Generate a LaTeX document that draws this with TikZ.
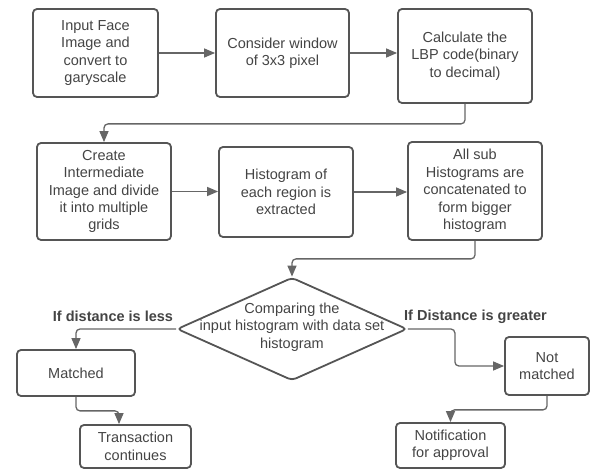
\documentclass[tikz,border=0pt]{standalone}
\usepackage{fontspec}
\setmainfont{Liberation Sans}
\usetikzlibrary{shapes.geometric,arrows.meta}
\definecolor{boxline}{HTML}{555555}
\definecolor{arrline}{HTML}{666666}
\definecolor{txt}{HTML}{444444}
\tikzset{
  box/.style={draw=boxline, line width=1.8pt, rounded corners=4pt, align=center,
    text=txt, inner sep=0pt, font=\fontsize{14.5}{17.4}\selectfont},
  dia/.style={draw=boxline, line width=1.8pt, rounded corners=4pt, shape=diamond,
    inner sep=0pt, minimum width=230pt, minimum height=103pt},
  arr/.style={draw=arrline, line width=1.3pt, rounded corners=4pt,
    -{Triangle[length=11pt,width=9pt]}},
  lbl/.style={text=txt, font=\fontsize{14.5}{17.4}\selectfont\bfseries, inner sep=0pt},
  plain/.style={text=txt, align=center, inner sep=0pt, font=\fontsize{14.5}{17.4}\selectfont}
}
\begin{document}
\begin{tikzpicture}[x=1pt,y=-1pt]
\useasboundingbox (0,0) rectangle (590,470);
\node[box, minimum width=125pt, minimum height=88pt] (b1) at (95.5,53) {Input Face\\Image and\\convert to\\garyscale};
\node[box, minimum width=133pt, minimum height=88pt] (b2) at (282.5,53) {Consider window\\of 3x3 pixel};
\node[box, minimum width=134pt, minimum height=94pt] (b3) at (465,56) {Calculate the\\LBP code(binary\\to decimal)};
\node[box, minimum width=134pt, minimum height=97pt] (b4) at (104,191.5) {Create\\Intermediate\\Image and divide\\it into multiple\\grids};
\node[box, minimum width=134pt, minimum height=90pt] (b5) at (286,192) {Histogram of\\each region is\\extracted};
\node[box, minimum width=134pt, minimum height=98pt] (b6) at (475,191) {All sub\\Histograms are\\concatenated to\\form bigger\\histogram};
\node[dia] (d) at (292,329) {};
\node[plain] (dt) at (292,327) {Comparing the\\input histogram with data set\\histogram};
\node[box, minimum width=118pt, minimum height=46pt] (m) at (76,373) {Matched};
\node[box, minimum width=111pt, minimum height=43pt] (t) at (135.5,446.5) {Transaction\\continues};
\node[box, minimum width=84pt, minimum height=58pt] (nm) at (547,366) {Not\\matched};
\node[box, minimum width=109pt, minimum height=45pt] (nf) at (450.5,445.5) {Notification\\for approval};
\node[lbl] (l1) at (113,316) {If distance is less};
\node[lbl] (l2) at (475.5,317) {If Distance is greater};

\draw[arr] (b1.east) -- (b1.east -| b2.west);
\draw[arr] (b2.east) -- (b2.east -| b3.west);
\draw[arr] (b3.south) -- ++(0,20) -| (b4.north);
\draw[arr] (b4.east) -- (b4.east -| b5.west);
\draw[arr] (b5.east) -- (b5.east -| b6.west);
\draw[arr] (b6.south) -- ++(0,18) -| (d.north);
\draw[arr] (d.west) -| (m.north);
\draw[arr] (m.south) -- ++(0,14) -| ([xshift=-16.5pt]t.north);
\draw[arr] (d.east) -- ++(47,0) |- (nm.west);
\draw[arr] (nm.south) -- ++(0,14) -| (nf.north);
\end{tikzpicture}
\end{document}
